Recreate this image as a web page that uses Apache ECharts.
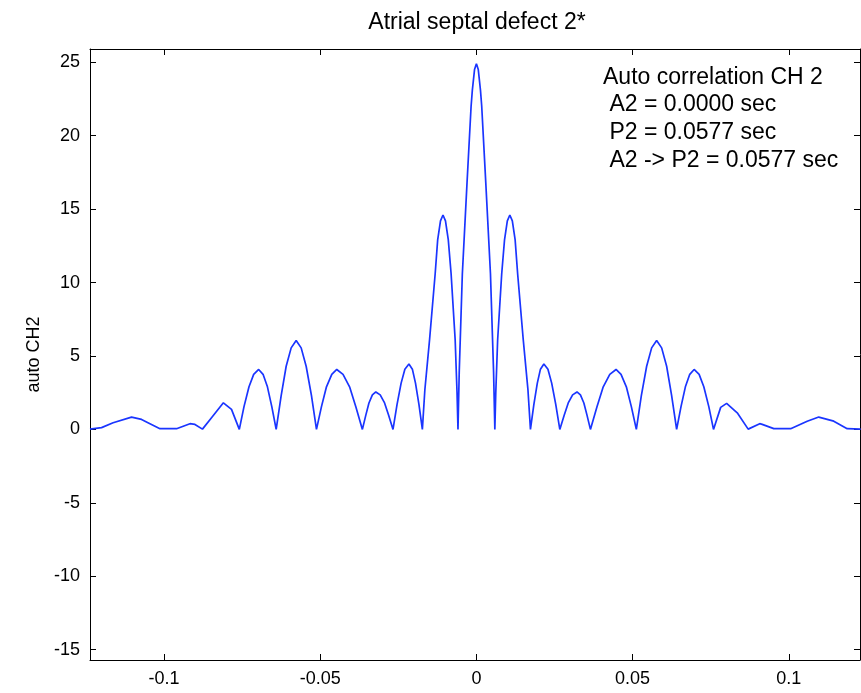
<!DOCTYPE html>
<html>
<head>
<meta charset="utf-8">
<script src="https://cdn.jsdelivr.net/npm/echarts@6.0.0/dist/echarts.min.js"></script>
<style>
  html, body { margin: 0; padding: 0; background: #fff; }
  #main { width: 861px; height: 693px; }
</style>
</head>
<body>
<div id="main"></div>
<script type="text/javascript">
  // lag (sec)
  var lagSec = [
    -0.1237, -0.1200, -0.1163, -0.1104, -0.1072, -0.1045, -0.1013, -0.0960, -0.0917, -0.0901,
    -0.0877, -0.0848, -0.0810, -0.0784, -0.0759, -0.0744, -0.0728, -0.0713, -0.0697, -0.0683,
    -0.0669, -0.0655, -0.0641, -0.0625, -0.0609, -0.0593, -0.0577, -0.0561, -0.0545, -0.0528,
    -0.0512, -0.0496, -0.0480, -0.0463, -0.0447, -0.0427, -0.0406, -0.0386, -0.0365, -0.0354,
    -0.0344, -0.0333, -0.0322, -0.0308, -0.0294, -0.0281, -0.0267, -0.0254, -0.0241, -0.0229,
    -0.0216, -0.0205, -0.0195, -0.0184, -0.0173, -0.0165, -0.0150, -0.0132, -0.0124, -0.0115,
    -0.0107, -0.0099, -0.0090, -0.0081, -0.0068, -0.0062, -0.0059, -0.0055, -0.0045, -0.0030,
    -0.0017, -0.0013, -0.0006, 0,
    0.0006, 0.0013, 0.0017, 0.0030, 0.0045, 0.0055, 0.0059, 0.0062, 0.0068, 0.0081,
    0.0090, 0.0099, 0.0107, 0.0115, 0.0124, 0.0132, 0.0150, 0.0165, 0.0173, 0.0184,
    0.0195, 0.0205, 0.0216, 0.0229, 0.0241, 0.0254, 0.0267, 0.0281, 0.0294, 0.0308,
    0.0322, 0.0333, 0.0344, 0.0354, 0.0365, 0.0386, 0.0406, 0.0427, 0.0447, 0.0463,
    0.0480, 0.0496, 0.0512, 0.0528, 0.0545, 0.0561, 0.0577, 0.0593, 0.0609, 0.0625,
    0.0641, 0.0655, 0.0669, 0.0683, 0.0697, 0.0713, 0.0728, 0.0744, 0.0759, 0.0782,
    0.0801, 0.0835, 0.0870, 0.0907, 0.0915, 0.0952, 0.1006, 0.1059, 0.1096, 0.1144,
    0.1187, 0.1230
  ];
  // auto CH2 values
  var autoCh2 = [
    0.02, 0.12, 0.45, 0.84, 0.68, 0.39, 0.05, 0.05, 0.39, 0.34,
    0.02, 0.80, 1.81, 1.36, 0.00, 1.55, 2.90, 3.75, 4.08, 3.75,
    2.90, 1.55, 0.00, 2.30, 4.30, 5.55, 6.05, 5.55, 4.30, 2.30,
    0.00, 1.55, 2.90, 3.75, 4.08, 3.75, 2.90, 1.55, 0.00, 0.97,
    1.80, 2.35, 2.55, 2.35, 1.80, 0.97, 0.00, 1.70, 3.15, 4.10,
    4.45, 4.10, 3.15, 1.70, 0.00, 2.70, 6.10, 10.60, 12.90, 14.20,
    14.60, 14.20, 12.90, 10.60, 6.10, 2.50, 0.00, 3.90, 10.60, 16.80,
    22.00, 23.10, 24.50, 24.90,
    24.50, 23.10, 22.00, 16.80, 10.60, 3.90, 0.00, 2.50, 6.10, 10.60,
    12.90, 14.20, 14.60, 14.20, 12.90, 10.60, 6.10, 2.70, 0.00, 1.70,
    3.15, 4.10, 4.45, 4.10, 3.15, 1.70, 0.00, 0.97, 1.80, 2.35,
    2.55, 2.35, 1.80, 0.97, 0.00, 1.55, 2.90, 3.75, 4.08, 3.75,
    2.90, 1.55, 0.00, 2.30, 4.30, 5.55, 6.05, 5.55, 4.30, 2.30,
    0.00, 1.55, 2.90, 3.75, 4.08, 3.75, 2.90, 1.55, 0.00, 1.50,
    1.77, 1.13, 0.02, 0.39, 0.34, 0.05, 0.05, 0.56, 0.84, 0.56,
    0.05, 0.02
  ];
  var xTicks = [-0.1, -0.05, 0, 0.05, 0.1];
  var yTicks = [-15, -10, -5, 0, 5, 10, 15, 20, 25];
  var noteLines = [
    'Auto correlation CH 2',
    ' A2 = 0.0000 sec',
    ' P2 = 0.0577 sec',
    ' A2 -> P2 = 0.0577 sec'
  ];

  var font = "'Liberation Sans', Arial, sans-serif";
  var xMin = -0.1237, xMax = 0.1228;
  var yMin = -15.7, yMax = 25.9;

  var points = lagSec.map(function (t, i) { return [t, autoCh2[i]]; });

  function xAxisCfg(pos, showLabels) {
    return {
      type: 'value', position: pos, min: xMin, max: xMax,
      axisLine: { show: true, onZero: false, lineStyle: { color: '#000', width: 1 } },
      axisTick: { show: true, inside: true, length: 6, customValues: xTicks, lineStyle: { color: '#000' } },
      axisLabel: { show: showLabels, customValues: xTicks, margin: 10, color: '#000', fontSize: 18, fontFamily: font },
      splitLine: { show: false }
    };
  }
  function yAxisCfg(pos, showLabels) {
    return {
      type: 'value', position: pos, min: yMin, max: yMax,
      name: showLabels ? 'auto CH2' : '',
      nameLocation: 'middle', nameRotate: 90, nameGap: 45,
      nameTextStyle: { color: '#000', fontSize: 18, fontFamily: font },
      axisLine: { show: true, onZero: false, lineStyle: { color: '#000', width: 1 } },
      axisTick: { show: true, inside: true, length: 6, customValues: yTicks, lineStyle: { color: '#000' } },
      axisLabel: { show: showLabels, customValues: yTicks, margin: 10, color: '#000', fontSize: 18, fontFamily: font },
      splitLine: { show: false }
    };
  }

  var graphics = [{
    type: 'text', x: 477, y: 23,
    style: { text: 'Atrial septal defect 2*', fill: '#000', font: '23px ' + font, textAlign: 'center', textVerticalAlign: 'middle' }
  }];
  var noteY = [78, 105, 133, 161];
  noteLines.forEach(function (line, i) {
    graphics.push({
      type: 'text', x: 603, y: noteY[i],
      style: { text: line, fill: '#000', font: '23px ' + font, textVerticalAlign: 'middle' }
    });
  });

  var option = {
    backgroundColor: '#fff',
    animation: false,
    grid: { left: 90, right: 1, top: 49, bottom: 33 },
    xAxis: [xAxisCfg('bottom', true), xAxisCfg('top', false)],
    yAxis: [yAxisCfg('left', true), yAxisCfg('right', false)],
    graphic: graphics,
    series: [{
      type: 'line',
      data: points,
      showSymbol: false,
      clip: true,
      lineStyle: { color: '#1a35ff', width: 1.7 }
    }]
  };

  var myChart = echarts.init(document.getElementById('main'));
  myChart.setOption(option);
</script>
</body>
</html>
